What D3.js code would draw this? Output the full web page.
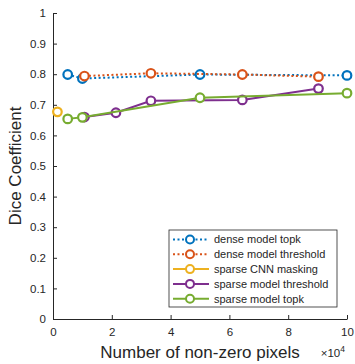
<!DOCTYPE html>
<html>
<head>
<meta charset="utf-8">
<script src="https://cdn.jsdelivr.net/npm/d3@7"></script>
<style>
  body { margin: 0; background: #fff; }
  svg { font-family: "Liberation Sans", Arial, sans-serif; }
</style>
</head>
<body>
<svg id="chart" width="355" height="364"></svg>
<script>
// values (x in units of 1e4 pixels)
const denseTopkX = [0.5, 1.0, 5.0, 10.0];
const denseTopkY = [0.799, 0.786, 0.799, 0.796];
const denseThrX = [1.07, 3.33, 6.44, 9.03];
const denseThrY = [0.794, 0.803, 0.799, 0.792];
const cnnMaskX = [0.15];
const cnnMaskY = [0.677];
const sparseThrX = [1.07, 2.14, 3.33, 6.44, 9.03];
const sparseThrY = [0.660, 0.674, 0.713, 0.716, 0.753];
const sparseTopkX = [0.5, 1.0, 5.0, 10.0];
const sparseTopkY = [0.654, 0.659, 0.723, 0.738];

const seriesNames = ["dense model topk", "dense model threshold", "sparse CNN masking", "sparse model threshold", "sparse model topk"];
const seriesColors = ["#0072BD", "#D95319", "#EDB120", "#7E2F8E", "#77AC30"];
const xTicks = [0, 2, 4, 6, 8, 10];
const yTicks = [0, 0.1, 0.2, 0.3, 0.4, 0.5, 0.6, 0.7, 0.8, 0.9, 1];

const series = [
    { xs: denseTopkX, ys: denseTopkY, dotted: true },
    { xs: denseThrX, ys: denseThrY, dotted: true },
    { xs: cnnMaskX, ys: cnnMaskY, dotted: false },
    { xs: sparseThrX, ys: sparseThrY, dotted: false },
    { xs: sparseTopkX, ys: sparseTopkY, dotted: false }
].map((s, i) => ({ ...s, name: seriesNames[i], color: seriesColors[i],
    pts: s.xs.map((x, j) => [x, s.ys[j]]) }));

const margin = { top: 13, right: 8, bottom: 45, left: 53 };
const width = 355 - margin.left - margin.right;
const height = 364 - margin.top - margin.bottom;
const axisColor = "#262626";

const svg = d3.select("#chart")
    .append("g")
    .attr("transform", `translate(${margin.left},${margin.top})`);

const x = d3.scaleLinear().domain([0, 10]).range([0, width]);
const y = d3.scaleLinear().domain([0, 1]).range([height, 0]);

// axes, ticks pointing inward like matlab
const xAxis = svg.append("g")
    .attr("transform", "translate(0," + height + ")")
    .call(d3.axisBottom(x).tickValues(xTicks).tickSizeInner(-4).tickSizeOuter(0).tickPadding(9).tickFormat(d3.format("d")));
const yAxis = svg.append("g")
    .call(d3.axisLeft(y).tickValues(yTicks).tickSizeInner(-4).tickSizeOuter(0).tickPadding(7).tickFormat(d => d === 0 || d === 1 ? d : d.toFixed(1)));

[xAxis, yAxis].forEach(g => {
    g.select(".domain").attr("stroke", axisColor).attr("stroke-width", 1);
    g.selectAll(".tick line").attr("stroke", axisColor);
    g.selectAll(".tick text")
        .attr("fill", axisColor)
        .style("font-size", "11.5px")
        .style("font-family", "Liberation Sans, Arial, sans-serif");
});

// axis labels
svg.append("text")
    .attr("x", width / 2)
    .attr("y", height + 39)
    .attr("fill", axisColor)
    .style("text-anchor", "middle")
    .style("font-size", "17px")
    .text("Number of non-zero pixels");

svg.append("text")
    .attr("transform", "rotate(-90)")
    .attr("x", -height / 2)
    .attr("y", -32)
    .attr("fill", axisColor)
    .style("text-anchor", "middle")
    .style("font-size", "17px")
    .text("Dice Coefficient");

const mult = svg.append("text")
    .attr("x", width - 2)
    .attr("y", height + 38)
    .attr("fill", axisColor)
    .style("text-anchor", "end")
    .style("font-size", "11.5px");
mult.append("tspan").text("\u00d710");
mult.append("tspan").attr("dy", -5).style("font-size", "8.5px").text("4");

// lines and markers
const line = d3.line().x(d => x(d[0])).y(d => y(d[1]));

series.forEach(s => {
    svg.append("path")
        .datum(s.pts)
        .attr("fill", "none")
        .attr("stroke", s.color)
        .attr("stroke-width", 2)
        .attr("stroke-dasharray", s.dotted ? "2,2.5" : null)
        .attr("d", line);
    svg.selectAll(null)
        .data(s.pts)
        .join("circle")
        .attr("cx", d => x(d[0]))
        .attr("cy", d => y(d[1]))
        .attr("r", 4.3)
        .attr("fill", "white")
        .attr("stroke", s.color)
        .attr("stroke-width", 2.2);
});

// legend
const legend = svg.append("g")
    .attr("transform", `translate(${169 - margin.left},${230 - margin.top})`);
legend.append("rect")
    .attr("width", 168)
    .attr("height", 77)
    .attr("fill", "white")
    .attr("stroke", axisColor)
    .attr("stroke-width", 0.8);

series.forEach((s, i) => {
    const row = legend.append("g").attr("transform", `translate(0,${9.5 + i * 14.8})`);
    row.append("line")
        .attr("x1", 4).attr("x2", 40)
        .attr("stroke", s.color)
        .attr("stroke-width", 2)
        .attr("stroke-dasharray", s.dotted ? "2,2.5" : null);
    row.append("circle")
        .attr("cx", 21).attr("r", 4)
        .attr("fill", "white")
        .attr("stroke", s.color)
        .attr("stroke-width", 2);
    row.append("text")
        .attr("x", 45)
        .attr("dy", "0.35em")
        .attr("fill", axisColor)
        .style("font-size", "11px")
        .text(s.name);
});
</script>
</body>
</html>
